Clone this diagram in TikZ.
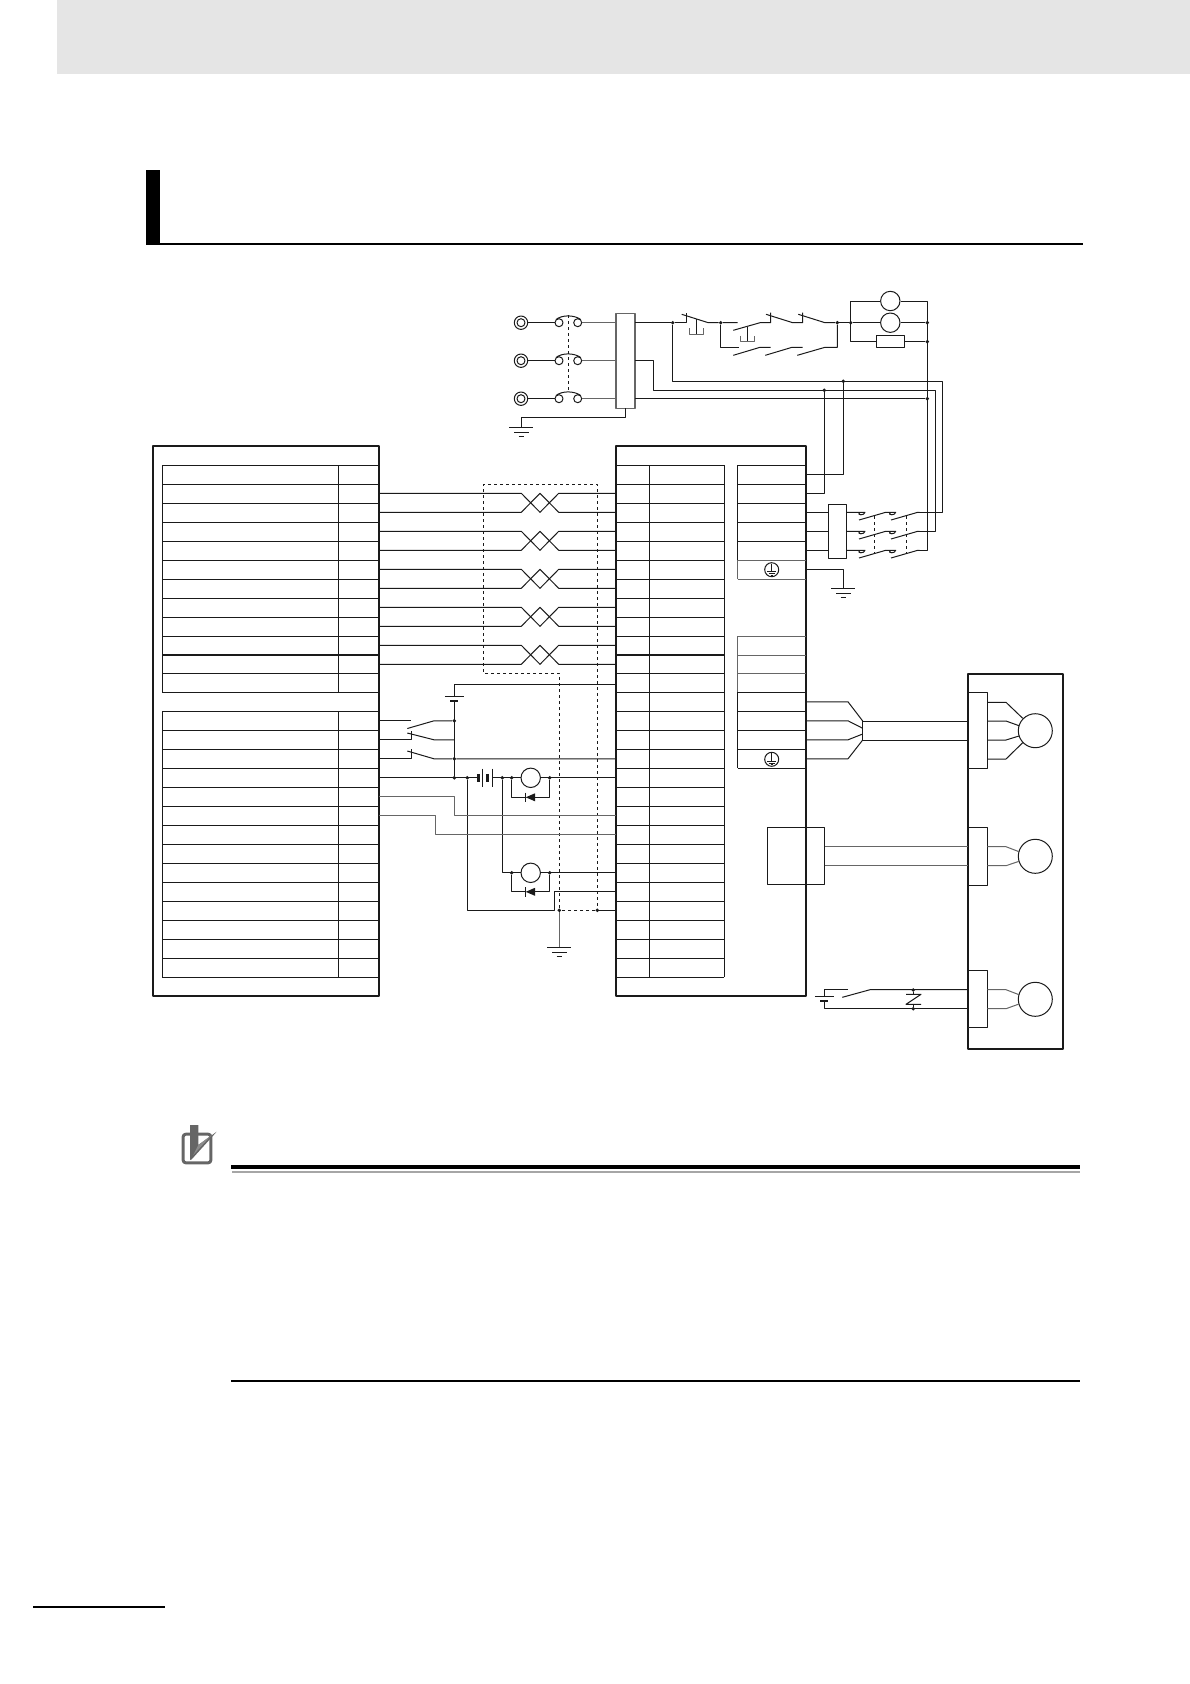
\documentclass[tikz,border=0pt]{standalone}
\definecolor{inkblack}{HTML}{1A1A1A}
\definecolor{paleline}{HTML}{666666}
\definecolor{iconink}{HTML}{666666}
\tikzset{
	wire/.style={draw=inkblack, line width=1pt},
	greywire/.style={draw=paleline, line width=1pt},
	chassis/.style={draw=inkblack, line width=1.8pt},
	thinbox/.style={draw=inkblack, line width=1pt, fill=white, inner sep=0pt, outer sep=0pt, anchor=north west},
	lead/.style={wire, dashed},
	dotnode/.style={circle, fill=inkblack, inner sep=0pt, minimum size=3.8pt},
	smallmotor/.style={circle, wire, inner sep=0pt, minimum size=19.4pt},
	bigmotor/.style={circle, wire, inner sep=0pt, minimum size=34pt},
	gnd/.pic={
		\draw[wire] (-12,0) -- (12,0);
		\draw[wire] (-7.3,4.8) -- (7.3,4.8);
		\draw[wire] (-2.8,9.3) -- (2.8,9.3);
	},
	earthmark/.pic={
		\draw[wire] (0,0) circle (7pt);
		\draw[wire] (0,-6) -- (0,2);
		\draw[wire] (-4.5,2) -- (4.5,2);
		\draw[wire] (-3,4) -- (3,4);
		\draw[wire] (-1,5.6) -- (1,5.6);
	},
	flydiode/.pic={
		\fill[inkblack] (0,0) -- (9.3,-4) -- (9.3,4) -- cycle;
		\draw[wire] (0,-4.7) -- (0,4.7);
	},
	pushmark/.pic={
		\draw[wire] (0,0) -- (0,15);
		\draw[greywire] (-7,9) -- (-7,15) -- (7,15) -- (7,9);
	},
	cellmark/.pic={
		\draw[wire] (-9.5,0) -- (9.5,0);
		\fill[inkblack] (-4,4) rectangle (4,6);
	},
}
\begin{document}
\begin{tikzpicture}[x=1pt, y=-1pt, line cap=butt, line join=round]
	\useasboundingbox (0,0) rectangle (1190,1684);

	% page furniture
	\fill[black!10] (57,0) rectangle (1190,74);
	\fill[black] (146,170) rectangle (160,245);
	\draw[black, line width=2.3pt] (146,243.8) -- (1083,243.8);
	\draw[black, line width=4pt] (231,1167) -- (1080,1167);
	\draw[black!35, line width=2pt] (232,1171.7) -- (1080,1171.7);
	\draw[black, line width=2.4pt] (231,1381) -- (1080,1381);
	\draw[black, line width=2pt] (33,1607) -- (165,1607);
	\draw[iconink, line width=3pt, rounded corners=2.5pt] (183.2,1134.2) rectangle (210.8,1162.8);
	\fill[iconink] (190,1125) -- (198.3,1125) -- (198.3,1145) -- (216.7,1131.7) -- (191.7,1159.3) -- (190,1160) -- cycle;
	\fill[black!45] (198.3,1145) -- (211.7,1135) -- (193.3,1155) -- cycle;

	% row grid shared by both blocks
	\foreach \i in {0,...,27}{
		\pgfmathsetmacro{\ry}{\i>10 ? 464.3+19*\i : 465.3+19*\i}
		\pgfmathsetmacro{\wy}{\i>10 ? 473.8+19*\i : 474.3+19*\i}
		\coordinate (r\i) at (0,\ry);
		\coordinate (w\i) at (0,\wy);
	}
	\node[thinbox, chassis, minimum width=226pt, minimum height=550.3pt] (drvl) at (153.3,445.7) {};
	\node[thinbox, chassis, minimum width=190pt, minimum height=550.3pt] (drvr) at (616,445.7) {};
	\coordinate (ltab) at (162.3,0);
	\coordinate (lmid) at (338.3,0);
	\coordinate (rmid) at (649.3,0);
	\coordinate (rtab) at (724.3,0);
	\coordinate (rinn) at (737.7,0);

	\foreach \i in {0,...,27}{
		\draw[wire] (ltab |- r\i) -- (drvl.east |- r\i);
		\draw[wire] (drvr.west |- r\i) -- (rtab |- r\i);
	}
	\draw[wire] (ltab |- r0) -- (ltab |- r12) (lmid |- r0) -- (lmid |- r12);
	\draw[wire] (ltab |- r13) -- (ltab |- r27) (lmid |- r13) -- (lmid |- r27);
	\draw[wire] (rmid |- r0) -- (rmid |- r27) (rtab |- r0) -- (rtab |- r27);
	\draw[chassis] (ltab |- r10) -- (drvl.east |- r10);
	\draw[chassis] (drvr.west |- r10) -- (rtab |- r10);

	\foreach \i in {0,...,4,12,13,14,15,16}{
		\draw[wire] (rinn |- r\i) -- (drvr.east |- r\i);
	}
	\foreach \i in {5,6,9,10,11}{
		\draw[greywire] (rinn |- r\i) -- (drvr.east |- r\i);
	}
	\draw[wire] (rinn |- r0) -- (rinn |- r5) (rinn |- r12) -- (rinn |- r16);
	\draw[greywire] (rinn |- r5) -- (rinn |- r6) (rinn |- r9) -- (rinn |- r12);
	\pic at (771.7,569.7) {earthmark};
	\pic at (771.7,759.3) {earthmark};

	% twisted pairs and shield
	\foreach \a/\b in {1/2,3/4,5/6,7/8,9/10}{
		\draw[wire] (drvl.east |- w\a) -- ++(142,0) -- ++(18.7,19) -- ++(18.7,-19) -- (drvr.west |- w\a);
		\draw[wire] (drvl.east |- w\b) -- ++(142,0) -- ++(18.7,-19) -- ++(18.7,19) -- (drvr.west |- w\b);
	}
	\coordinate (shtl) at (483.7,484.3);
	\node[dotnode] (shgnd) at (559.3,910.3) {};
	\node[dotnode] (shend) at (597.3,910.3) {};
	\draw[lead] (shgnd) -- (559.3,673.3) -- (483.7,673.3) -- (shtl) -- (597.3,484.3) -- (shend) -- (shgnd);
	\draw[wire] (shend) -- (drvr.west |- shend);
	\draw[greywire] (shgnd) -- (559.3,947.3);
	\pic at (559.3,947.3) {gnd};

	% control supply and relays
	\node[dotnode] (busa) at (454.3,720.8) {};
	\node[dotnode] (busb) at (454.3,758.8) {};
	\node[dotnode] (busc) at (454.3,777.8) {};
	\draw[wire] (drvr.west |- 0,684.3) -- (454.3,684.3) -- (454.3,696);
	\pic at (454.3,696) {cellmark};
	\draw[wire] (454.3,701) -- (busc);
	\draw[wire] (drvl.east |- w13) -- (411,720.8);
	\draw[wire] (407.3,728.5) -- (434,720.8) -- (busa);
	\draw[wire] (drvl.east |- w14) -- (411.7,739.8) -- (411.7,730.7);
	\draw[wire] (407.3,733) -- (434,739.8) -- (454.3,739.8);
	\draw[wire] (drvl.east |- w15) -- (411.7,758.8) -- (411.7,749.3);
	\draw[wire] (407.3,751) -- (434,758.8) -- (busb) -- (drvr.west |- busb);

	\node[smallmotor] (coila) at (530.7,777.8) {};
	\node[smallmotor] (coilb) at (530.7,872.8) {};
	\node[dotnode] (taga) at (467.3,777.8) {};
	\node[dotnode] (tagb) at (502.3,777.8) {};
	\node[dotnode] (taga1) at (511.7,777.8) {};
	\node[dotnode] (taga2) at (549.7,777.8) {};
	\node[dotnode] (tagb1) at (511.7,872.8) {};
	\node[dotnode] (tagb2) at (549.7,872.8) {};
	\draw[wire] (drvl.east |- w16) -- (477.5,777.8);
	\draw[inkblack, line width=3pt] (478.3,773.8) -- (478.3,781.8) (487.7,773.8) -- (487.7,781.8);
	\draw[wire] (482.3,768.5) -- (482.3,787.1) (492.3,768.5) -- (492.3,787.1);
	\draw[wire] (492.3,777.8) -- (coila);
	\draw[wire] (coila) -- (drvr.west |- coila);
	\draw[wire] (taga1) -- (511.7,797.3) -- (526,797.3);
	\draw[wire] (taga2) -- (549.7,797.3) -- (535,797.3);
	\pic at (525.7,797.3) {flydiode};
	\draw[wire] (tagb) -- (502.3,872.8) -- (coilb);
	\draw[wire] (coilb) -- (drvr.west |- coilb);
	\draw[wire] (tagb1) -- (511.7,891.8) -- (526,891.8);
	\draw[wire] (tagb2) -- (549.7,891.8) -- (535,891.8);
	\pic at (525.7,891.8) {flydiode};
	\draw[wire] (drvr.west |- w22) -- (554.3,891.8) -- (554.3,910.3) -- (467.3,910.3) -- (taga);
	\draw[greywire] (drvl.east |- w17) -- (454.3,796.8) -- (454.3,815.8) -- (drvr.west |- w18);
	\draw[greywire] (drvl.east |- w18) -- (435.7,815.8) -- (435.7,834.8) -- (drvr.west |- w19);

	% mains side
	\node[thinbox, minimum width=19pt, minimum height=95pt, draw=black!60, line width=1.2pt] (nfilter) at (616,313.3) {};
	\foreach \py in {322.7,360.7,398.7}{
		\draw[wire] (521,\py) circle (6.7pt);
		\draw[wire] (521,\py) circle (4pt);
		\draw[wire] (527.7,\py) -- (555,\py);
		\draw[wire] (559,\py) circle (4pt);
		\draw[wire] (577.7,\py) circle (4pt);
		\draw[wire] (556,{\py-3.2}) .. controls (562,{\py-8}) and (574,{\py-8}) .. (580.7,{\py-3.2});
		\draw[greywire] (581.7,\py) -- (nfilter.west |- 0,\py);
	}
	\draw[lead] (568.3,315) -- (568.3,392);
	\draw[wire] (nfilter.south) -- (625.5,417.7) -- (521.3,417.7) -- (521.3,427.3);
	\pic at (521.3,427.3) {gnd};

	\node[dotnode] (rowa) at (672.7,322.7) {};
	\node[dotnode] (rowb) at (720.7,322.7) {};
	\node[dotnode] (rowc) at (837.3,322.7) {};
	\node[dotnode] (rowd) at (850.7,322.7) {};
	\node[dotnode] (rowe) at (927.3,322.7) {};
	\node[dotnode] (rowf) at (927.3,341.7) {};
	\node[dotnode] (rowg) at (927.3,398.7) {};
	\node[dotnode] (tapa) at (843.3,381.3) {};
	\node[dotnode] (tapb) at (824.3,390.3) {};
	\draw[wire] (nfilter.east |- rowa) -- (rowa) -- (686,322.7) -- (686,312.7);
	\draw[wire] (681.7,314.3) -- (708.3,322.7) -- (rowb) -- (737.7,322.7);
	\pic at (696.5,319) {pushmark};
	\draw[wire] (733.3,330.3) -- (760,322.7) -- (770.7,322.7) -- (770.7,312.7);
	\pic at (747.3,326.7) {pushmark};
	\draw[wire] (766,314.3) -- (792.7,322.7) -- (802.7,322.7) -- (802.7,312.7);
	\draw[wire] (798.3,314.3) -- (825,322.7) -- (rowc);
	\draw[wire] (rowb) -- (720.7,347.3) -- (739,347.3);
	\draw[wire] (733.3,355.3) -- (760,347.3) -- (770.7,347.3);
	\draw[wire] (765.3,355.3) -- (792,347.3) -- (802.7,347.3);
	\draw[wire] (797.3,355.3) -- (825,347.3) -- (837.3,347.3) -- (rowc);
	\draw[wire] (rowc) -- (rowd);

	\node[smallmotor] (fana) at (890.3,301) {};
	\node[smallmotor] (fanb) at (890.3,322.7) {};
	\node[thinbox, minimum width=28pt, minimum height=12pt] (brres) at (876.7,335.7) {};
	\draw[wire] (fana.west) -- (850.7,301) -- (850.7,341.7) -- (brres.west);
	\draw[wire] (rowd) -- (fanb);
	\draw[wire] (fana.east) -- (927.3,301) -- (927.3,550.3) -- (918,550.3);
	\draw[wire] (fanb) -- (rowe);
	\draw[wire] (brres.east) -- (rowf);

	\draw[wire] (rowa) -- (672.7,381.3) -- (942.3,381.3) -- (942.3,512.3) -- (918,512.3);
	\draw[wire] (nfilter.east |- 0,360.7) -- (653.3,360.7) -- (653.3,390.3) -- (935.3,390.3) -- (935.3,531.3) -- (918,531.3);
	\draw[wire] (nfilter.east |- rowg) -- (rowg);
	\draw[wire] (tapa) -- (tapa |- w0) -- (drvr.east |- w0);
	\draw[wire] (tapb) -- (tapb |- w1) -- (drvr.east |- w1);

	% contactor on the motor side
	\node[thinbox, minimum width=18.4pt, minimum height=54pt] (mfilter) at (828.3,504.3) {};
	\foreach \i in {2,3,4}{
		\draw[wire] (drvr.east |- w\i) -- (mfilter.west |- w\i);
		\draw[wire] (mfilter.east |- w\i) -- ++(18.3,0) .. controls ++(0,3.3) and ++(-4.8,3.3) .. ++(-4.8,0);
		\draw[wire] (mfilter.east |- w\i) ++(12.3,7.7) -- ++(26.7,-7.7) -- ++(10,0) .. controls ++(0,3.3) and ++(-4.8,3.3) .. ++(-4.8,0);
		\draw[wire] (mfilter.east |- w\i) ++(44.3,7.7) -- ++(26.7,-7.7) -- ++(2,0);
	}
	\draw[lead] (874.7,516) -- (874.7,553.3) (906.7,516) -- (906.7,553.3);
	\draw[wire] (drvr.east |- w5) -- (843.3,569.3) -- (843.3,588.3);
	\pic at (843.3,588.3) {gnd};

	% motor, encoder and brake frame
	\node[thinbox, chassis, minimum width=95.3pt, minimum height=375pt, fill=none] (motframe) at (967.7,673.7) {};
	\node[thinbox, minimum width=19pt, minimum height=76pt] (cna) at (968.3,692.7) {};
	\node[thinbox, minimum width=19pt, minimum height=57.3pt] (cnb) at (968.3,827.7) {};
	\node[thinbox, minimum width=19pt, minimum height=57pt] (cnc) at (968.3,970.7) {};
	\node[bigmotor] (servom) at (1035.3,730.7) {};
	\node[bigmotor] (encod) at (1035.3,856.3) {};
	\node[bigmotor] (brake) at (1035.3,999.3) {};
	\node[thinbox, fill=none, minimum width=57.4pt, minimum height=57pt] (encbox) at (767.3,827.3) {};

	\draw[wire] (drvr.east |- w12) -- (848,701.8) -- (862.7,721);
	\draw[wire] (drvr.east |- w13) -- (848,720.8) -- (862.7,728.3);
	\draw[wire] (drvr.east |- w14) -- (848,739.8) -- (862.7,734);
	\draw[wire] (drvr.east |- w15) -- (848,758.8) -- (862.7,740);
	\draw[wire] (862.7,721) -- (862.7,740);
	\draw[wire] (862.7,721) -- (cna.west |- 0,721);
	\draw[wire] (862.7,740) -- (cna.west |- 0,740);
	\draw[wire] (cna.east |- 0,702.3) -- (1006,702.3) -- (1022.7,718.3);
	\draw[wire] (cna.east |- 0,721) -- (1006,721) -- (1019,725.7);
	\draw[wire] (cna.east |- 0,740) -- (1006,740) -- (1019,736);
	\draw[wire] (cna.east |- 0,759) -- (1006,759) -- (1022.7,742.7);

	\draw[greywire] (encbox.east |- 0,846.7) -- (cnb.west |- 0,846.7);
	\draw[greywire] (encbox.east |- 0,865.7) -- (cnb.west |- 0,865.7);
	\draw[greywire] (cnb.east |- 0,846.7) -- (1006,846.7) -- (1019,851.7);
	\draw[greywire] (cnb.east |- 0,865.7) -- (1006,865.7) -- (1019,861.3);
	\draw[greywire] (cnc.east |- 0,989.7) -- (1006,989.7) -- (1019,994.7);
	\draw[greywire] (cnc.east |- 0,1008.7) -- (1006,1008.7) -- (1019,1004);

	\node[dotnode] (vara) at (913.3,990) {};
	\node[dotnode] (varb) at (913.3,1008.7) {};
	\draw[wire] (cnc.west |- 0,989.7) -- (870,989.7) -- (842.3,997.3);
	\draw[wire] (848,989.7) -- (824.3,989.7) -- (824.3,996.3);
	\pic at (824.3,996.3) {cellmark};
	\draw[wire] (824.3,1001.3) -- (824.3,1008.7) -- (cnc.west |- 0,1008.7);
	\draw[wire] (vara) -- (913.3,994.3);
	\draw[wire] (906,994.3) -- (921,994.3) -- (906,1004.3) -- (921,1004.3);
	\draw[wire] (913.3,1004.3) -- (varb);
\end{tikzpicture}
\end{document}
